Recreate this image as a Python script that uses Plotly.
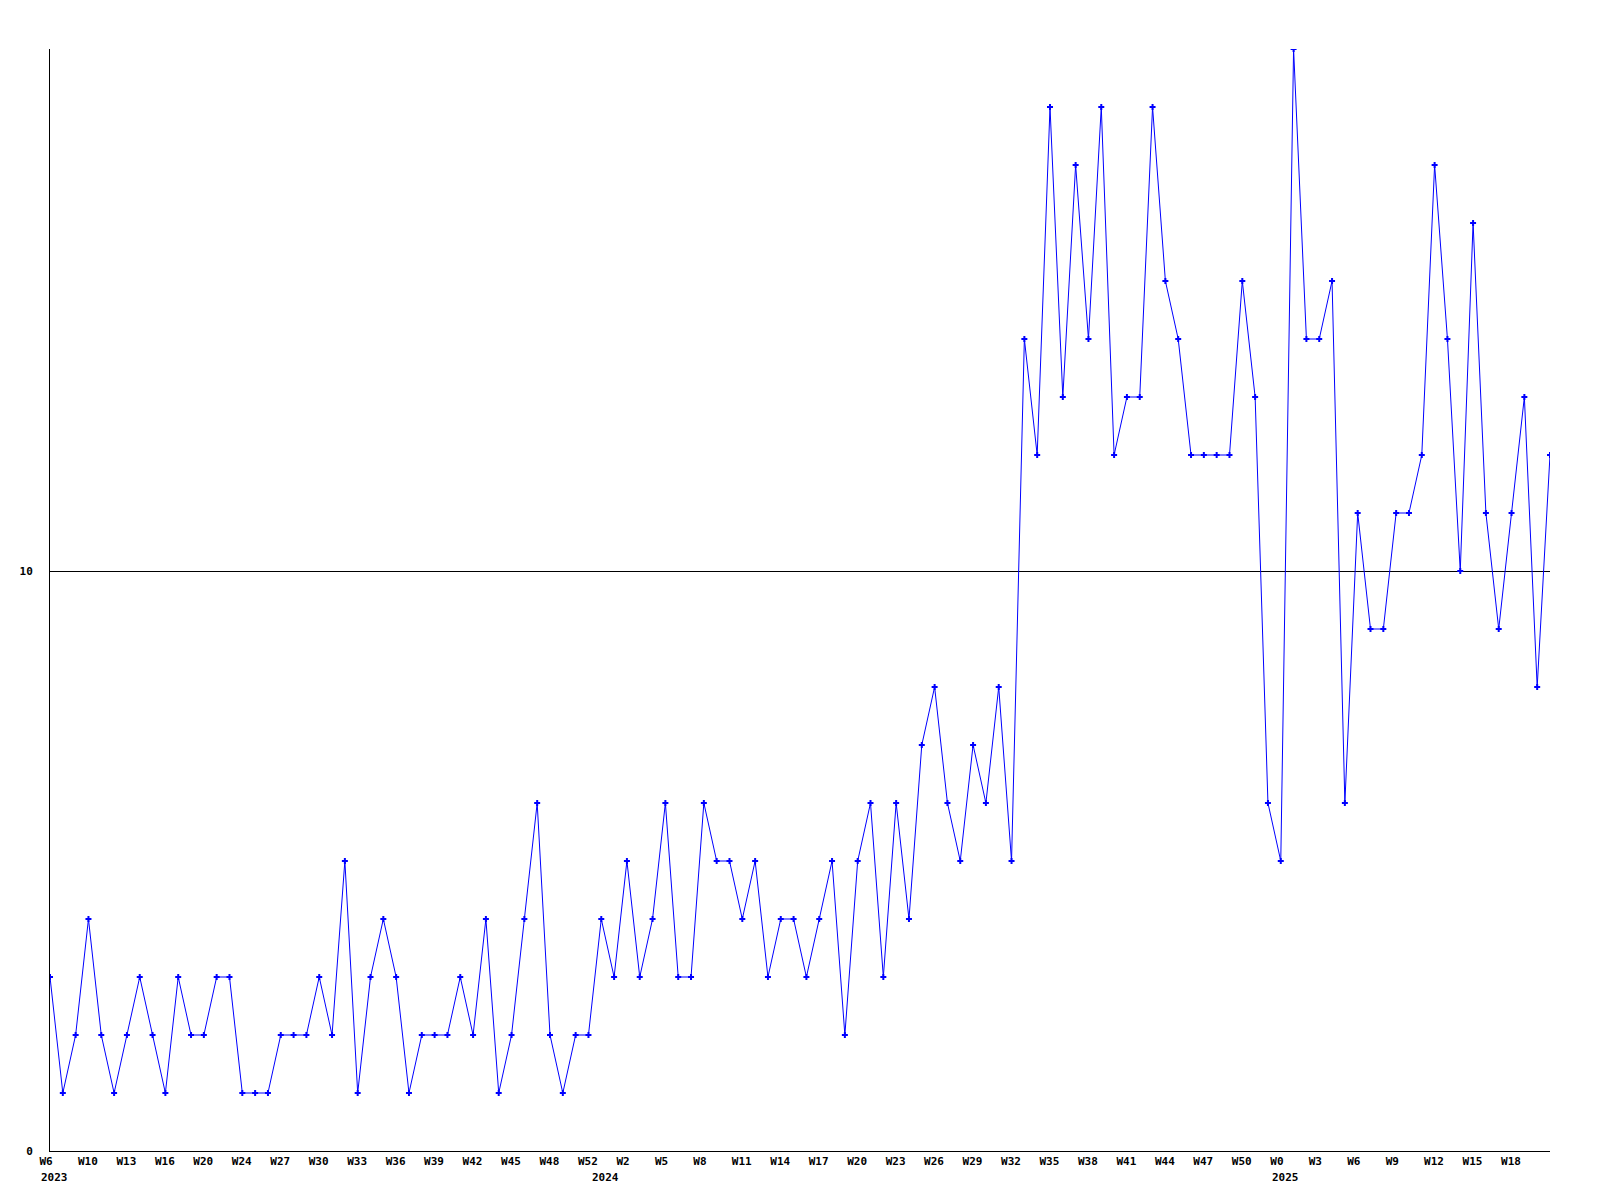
import plotly.graph_objects as go

# weekly values, 2023 W6 .. 2025 W20 (one value per week)
values = [
    3, 1, 2, 4, 2, 1, 2, 3, 2, 1, 3, 2, 2, 3, 3, 1, 1, 1, 2, 2, 2, 3, 2, 5, 1, 3, 4, 3, 1, 2,
    2, 2, 3, 2, 4, 1, 2, 4, 6, 2, 1, 2, 2, 4, 3, 5, 3, 4, 6, 3, 3, 6, 5, 5, 4, 5, 3, 4, 4, 3,
    4, 5, 2, 5, 6, 3, 6, 4, 7, 8, 6, 5, 7, 6, 8, 5, 14, 12, 18, 13, 17, 14, 18, 12, 13, 13, 18, 15, 14, 12,
    12, 12, 12, 15, 13, 6, 5, 19, 14, 14, 15, 6, 11, 9, 9, 11, 11, 12, 17, 14, 10, 16, 11, 9, 11, 13, 8, 12,
]

# week labels shown under every third point
tick_labels = [
    "W6", "W10", "W13", "W16", "W20", "W24", "W27", "W30", "W33", "W36", "W39", "W42", "W45", "W48", "W52",
    "W2", "W5", "W8", "W11", "W14", "W17", "W20", "W23", "W26", "W29", "W32", "W35", "W38", "W41", "W44",
    "W47", "W50", "W0", "W3", "W6", "W9", "W12", "W15", "W18",
]
tick_step = 3

# year labels and the index of the first point they sit under
years = ["2023", "2024", "2025"]
year_points = [0, 43, 96]

y_ticks = [0, 10]

x = list(range(len(values)))
tickvals = [i * tick_step for i in range(len(tick_labels))]

FONT = "DejaVu Sans Mono"

fig = go.Figure()
fig.add_trace(go.Scatter(
    x=x, y=values, mode="lines+markers",
    line=dict(color="#0000FF", width=1),
    marker=dict(symbol="cross", size=5, color="#0000FF", line=dict(width=0)),
    showlegend=False, hoverinfo="skip",
))

for label, idx in zip(years, year_points):
    fig.add_annotation(
        x=idx, y=0, xref="x", yref="paper",
        text="<b>%s</b>" % label, showarrow=False,
        xanchor="left", yanchor="top", xshift=-11, yshift=-18,
        font=dict(family=FONT, size=11, color="black"),
    )

fig.update_layout(
    width=1592, height=1192,
    margin=dict(l=42, r=50, t=41, b=49),
    paper_bgcolor="white", plot_bgcolor="white",
)
fig.update_xaxes(
    range=[0, len(values) - 1],
    tickmode="array", tickvals=tickvals, ticktext=["<b>%s</b>" % t for t in tick_labels],
    tickangle=0, ticks="", ticklabelposition="outside right", ticklabelshift=-11,
    tickfont=dict(family=FONT, size=11, color="black"),
    showgrid=False, zeroline=False,
    showline=True, linecolor="black", linewidth=1,
)
fig.update_yaxes(
    range=[0, 19],
    tickmode="array", tickvals=y_ticks, ticktext=["<b>%d</b>" % v for v in y_ticks],
    ticks="", ticklabelstandoff=14,
    tickfont=dict(family=FONT, size=11, color="black"),
    showgrid=True, gridcolor="black", gridwidth=1,
    zeroline=False,
    showline=True, linecolor="black", linewidth=1,
)

fig.write_html("out.html")
